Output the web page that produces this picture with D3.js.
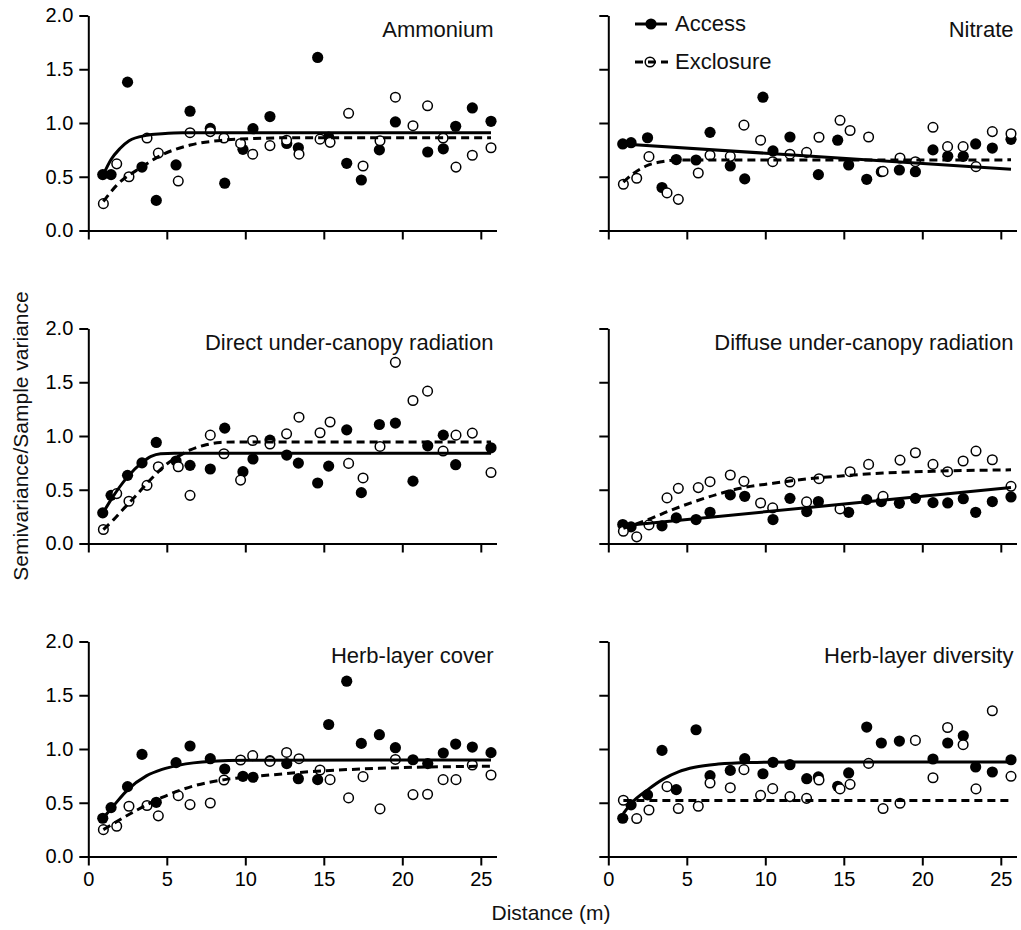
<!DOCTYPE html>
<html>
<head>
<meta charset="utf-8">
<script src="https://cdn.jsdelivr.net/npm/d3@7"></script>
<style>
  html, body { margin: 0; padding: 0; background: #fff; }
  svg { display: block; font-family: "Liberation Sans", Arial, sans-serif; }
</style>
</head>
<body>
<svg id="chart" width="1021" height="930"></svg>
<script>
// ---------- data ----------
const distanceTicks = [0, 5, 10, 15, 20, 25];
const ratioTicks = [0, 0.5, 1, 1.5, 2];
const ratioTickLabels = ["0.0", "0.5", "1.0", "1.5", "2.0"];
const panelTitles = ["Ammonium", "Nitrate", "Direct under-canopy radiation",
  "Diffuse under-canopy radiation", "Herb-layer cover", "Herb-layer diversity"];
const seriesNames = ["Access", "Exclosure"];

// lag distances (m)
const accessLags = [0.92, 1.45, 2.5, 3.42, 4.33, 5.59, 6.48, 7.77, 8.69, 9.85, 10.49, 11.57, 12.64,
  13.38, 14.61, 15.31, 16.46, 17.39, 18.54, 19.56, 20.68, 21.62, 22.61, 23.4, 24.46, 25.65];
const exclosureLags = [0.96, 1.81, 2.59, 3.74, 4.46, 5.73, 6.48, 7.77, 8.64, 9.7, 10.47, 11.57, 12.63,
  13.42, 14.76, 15.4, 16.58, 17.5, 18.58, 19.56, 20.68, 21.61, 22.6, 23.42, 24.46, 25.65];

// semivariance / sample variance (null = hidden / not visible)
const ammoniumAccess = [0.52, 0.52, 1.38, 0.59, 0.28, 0.61, 1.11, 0.95, 0.44, 0.755, 0.947, 1.06, 0.81,
  0.77, 1.61, 0.87, 0.625, 0.47, 0.75, 1.01, null, 0.73, 0.76, 0.97, 1.14, 1.016];
const ammoniumExclosure = [0.25, 0.62, 0.50, 0.86, 0.72, 0.46, 0.91, 0.92, 0.86, 0.81, 0.71, 0.79, 0.84,
  0.71, 0.85, 0.82, 1.09, 0.60, 0.835, 1.24, 0.975, 1.16, 0.86, 0.59, 0.70, 0.77];
const nitrateAccess = [0.805, 0.817, 0.863, 0.40, 0.66, 0.656, 0.913, 0.60, 0.48, 1.24, 0.74, 0.87, null,
  0.52, 0.84, 0.61, 0.476, 0.547, 0.563, 0.547, 0.75, 0.69, 0.69, 0.805, 0.767, 0.848];
const nitrateExclosure = [0.43, 0.486, 0.687, 0.35, 0.29, 0.535, 0.70, 0.69, 0.98, 0.84, 0.64, 0.71, 0.727,
  0.867, 1.025, 0.93, 0.87, 0.55, 0.674, 0.64, 0.96, 0.78, 0.78, 0.594, 0.92, 0.90];
const directAccess = [0.285, 0.448, 0.634, 0.75, 0.94, 0.767, 0.727, 0.693, 1.073, 0.668, 0.786, 0.962, 0.823,
  0.748, 0.563, 0.72, 1.057, 0.473, 1.107, 1.12, 0.58, 0.909, 1.008, 0.733, null, 0.89];
const directExclosure = [0.13, 0.464, 0.393, 0.541, 0.714, 0.714, 0.448, 1.008, 0.835, 0.59, 0.958, 0.925, 1.02,
  1.175, 1.03, 1.13, 0.745, 0.61, 0.903, 1.685, 1.33, 1.417, 0.86, 1.008, 1.027, 0.66];
const diffuseAccess = [0.176, 0.155, null, 0.164, 0.238, 0.223, 0.29, 0.452, 0.439, null, 0.223, 0.42, 0.297,
  0.39, null, 0.29, 0.408, 0.39, 0.374, 0.42, 0.38, 0.377, 0.417, 0.29, 0.39, 0.433];
const diffuseExclosure = [0.114, 0.062, 0.173, 0.424, 0.513, 0.52, 0.575, 0.637, 0.578, 0.377, 0.331, 0.572, 0.387,
  0.603, 0.322, 0.668, 0.736, 0.439, 0.776, 0.844, 0.736, 0.668, 0.767, 0.86, 0.779, 0.532];
const coverAccess = [0.356, 0.455, 0.65, 0.95, 0.504, 0.873, 1.028, 0.91, 0.814, 0.746, 0.737, 0.891, 0.864,
  0.724, 0.715, 1.228, 1.631, 1.052, 1.133, 1.012, 0.9, 0.864, 0.963, 1.046, 1.018, 0.966];
const coverExclosure = [0.25, 0.281, 0.467, 0.474, 0.378, 0.566, 0.483, 0.498, 0.712, 0.898, 0.938, 0.885, 0.968,
  0.91, 0.805, 0.715, 0.545, 0.743, 0.443, 0.903, 0.576, 0.579, 0.715, 0.715, 0.851, 0.758];
const diversityAccess = [0.356, 0.48, 0.573, 0.987, 0.622, 1.179, 0.752, 0.801, 0.91, 0.77, 0.876, 0.854, 0.724,
  0.74, 0.653, 0.777, 1.204, 1.056, 1.074, null, 0.907, 1.056, 1.123, 0.833, 0.786, 0.9];
const diversityExclosure = [0.523, 0.353, 0.433, 0.65, 0.446, 0.467, 0.684, 0.64, 0.808, 0.569, 0.631, 0.557, 0.541,
  0.712, 0.629, 0.671, 0.866, 0.446, 0.495, 1.08, 0.733, 1.2, 1.04, 0.629, 1.356, 0.746];

// fitted model curves, [distance, value]
const ammoniumAccessFit = [[0.96, 0.52], [1.45, 0.66], [2.0, 0.76], [2.6, 0.835], [3.7, 0.885], [4.7, 0.9], [6.0, 0.91], [25.65, 0.91]];
const ammoniumExclosureFit = [[0.96, 0.27], [1.8, 0.42], [3.4, 0.59], [4.5, 0.69], [6.5, 0.795], [8.6, 0.84], [10.5, 0.855], [13, 0.863], [25.65, 0.863]];
const nitrateAccessFit = [[0.96, 0.805], [25.65, 0.57]];
const nitrateExclosureFit = [[0.96, 0.45], [1.6, 0.53], [2.4, 0.6], [3.4, 0.64], [4.5, 0.655], [25.65, 0.657]];
const directAccessFit = [[0.96, 0.29], [1.5, 0.42], [2.5, 0.62], [3.4, 0.75], [4.0, 0.81], [4.6, 0.835], [5.5, 0.84], [25.65, 0.84]];
const directExclosureFit = [[0.96, 0.13], [1.6, 0.22], [2.1, 0.3], [3.0, 0.44], [4.0, 0.6], [5.0, 0.74], [5.6, 0.8], [6.5, 0.87], [7.5, 0.918], [8.4, 0.94], [9.5, 0.945], [25.65, 0.945]];
const diffuseAccessFit = [[0.96, 0.165], [25.65, 0.52]];
const diffuseExclosureFit = [[0.96, 0.14], [2.5, 0.22], [4.0, 0.31], [5.5, 0.39], [7.0, 0.46], [8.6, 0.52], [10.5, 0.56], [12.6, 0.6], [15, 0.63], [17.5, 0.655], [20.7, 0.672], [25.65, 0.685]];
const coverAccessFit = [[0.96, 0.36], [1.6, 0.47], [2.5, 0.62], [3.7, 0.75], [4.7, 0.81], [5.8, 0.85], [7.9, 0.885], [10, 0.895], [25.65, 0.898]];
const coverExclosureFit = [[0.96, 0.25], [2.7, 0.4], [4.7, 0.55], [6.8, 0.66], [8.7, 0.715], [11, 0.75], [14.2, 0.79], [18.5, 0.82], [25.65, 0.84]];
const diversityAccessFit = [[0.96, 0.4], [1.5, 0.5], [2.5, 0.62], [3.5, 0.72], [4.5, 0.79], [5.5, 0.83], [7, 0.86], [9, 0.875], [12, 0.88], [25.65, 0.88]];
const diversityExclosureFit = [[0.96, 0.52], [25.65, 0.52]];

// ---------- assemble panels ----------
const panels = [
  { title: panelTitles[0], acc: ammoniumAccess, exc: ammoniumExclosure, accFit: ammoniumAccessFit, excFit: ammoniumExclosureFit },
  { title: panelTitles[1], acc: nitrateAccess, exc: nitrateExclosure, accFit: nitrateAccessFit, excFit: nitrateExclosureFit },
  { title: panelTitles[2], acc: directAccess, exc: directExclosure, accFit: directAccessFit, excFit: directExclosureFit },
  { title: panelTitles[3], acc: diffuseAccess, exc: diffuseExclosure, accFit: diffuseAccessFit, excFit: diffuseExclosureFit },
  { title: panelTitles[4], acc: coverAccess, exc: coverExclosure, accFit: coverAccessFit, excFit: coverExclosureFit },
  { title: panelTitles[5], acc: diversityAccess, exc: diversityExclosure, accFit: diversityAccessFit, excFit: diversityExclosureFit }
];

// ---------- layout ----------
const colX = [88.3, 608.3];
const rowY = [15.5, 328.5, 641.5];
const plotW = 408.2, plotH = 215;
const x = d3.scaleLinear().domain([0, 26]).range([0, plotW]);
const y = d3.scaleLinear().domain([0, 2]).range([plotH, 0]);

const svg = d3.select("#chart");
const line = d3.line().x(d => x(d[0])).y(d => y(d[1])).curve(d3.curveMonotoneX);

panels.forEach((p, i) => {
  const col = i % 2, row = Math.floor(i / 2);
  const g = svg.append("g").attr("transform", `translate(${colX[col]},${rowY[row]})`);

  // axes
  const yAxis = d3.axisLeft(y).tickValues(ratioTicks).tickSize(9).tickSizeOuter(0).tickPadding(6)
    .tickFormat((d, k) => col === 0 ? ratioTickLabels[k] : "");
  const xAxis = d3.axisBottom(x).tickValues(distanceTicks).tickSize(9).tickSizeOuter(0).tickPadding(6)
    .tickFormat(d => row === 2 ? d3.format("d")(d) : "");
  const ya = g.append("g").call(yAxis);
  const xa = g.append("g").attr("transform", `translate(0,${plotH})`).call(xAxis);
  [ya, xa].forEach(a => {
    a.selectAll("path.domain").attr("stroke", "#000").attr("stroke-width", 2);
    a.selectAll(".tick line").attr("stroke", "#000").attr("stroke-width", 2);
    a.selectAll(".tick text").attr("fill", "#000").style("font-size", "20px")
      .style("font-family", "'Liberation Sans', Arial, sans-serif");
  });

  // title
  g.append("text").attr("x", plotW - 3).attr("y", 21).attr("text-anchor", "end")
    .style("font-size", "22px").attr("fill", "#111").text(p.title);

  // points
  const accPts = accessLags.map((d, k) => [d, p.acc[k]]).filter(d => d[1] != null);
  const excPts = exclosureLags.map((d, k) => [d, p.exc[k]]).filter(d => d[1] != null);
  g.append("g").selectAll("circle").data(accPts).join("circle")
    .attr("cx", d => x(d[0])).attr("cy", d => y(d[1])).attr("r", 5.6).attr("fill", "#000");
  g.append("g").selectAll("circle").data(excPts).join("circle")
    .attr("cx", d => x(d[0])).attr("cy", d => y(d[1])).attr("r", 4.8)
    .attr("fill", "#fff").attr("stroke", "#000").attr("stroke-width", 1.5);

  // fitted lines
  g.append("path").datum(p.accFit).attr("d", line).attr("fill", "none")
    .attr("stroke", "#000").attr("stroke-width", 3);
  g.append("path").datum(p.excFit).attr("d", line).attr("fill", "none")
    .attr("stroke", "#000").attr("stroke-width", 3).attr("stroke-dasharray", "8,5");
});

// legend (top-right panel)
const lg = svg.append("g");
lg.append("line").attr("x1", 635).attr("x2", 667).attr("y1", 24).attr("y2", 24)
  .attr("stroke", "#000").attr("stroke-width", 3);
lg.append("circle").attr("cx", 651).attr("cy", 24).attr("r", 5.6).attr("fill", "#000");
lg.append("text").attr("x", 675).attr("y", 31).style("font-size", "22px").attr("fill", "#111").text(seriesNames[0]);
lg.append("circle").attr("cx", 650).attr("cy", 62).attr("r", 4.8).attr("fill", "#fff")
  .attr("stroke", "#000").attr("stroke-width", 1.5);
lg.append("line").attr("x1", 635).attr("x2", 668).attr("y1", 62).attr("y2", 62)
  .attr("stroke", "#000").attr("stroke-width", 3).attr("stroke-dasharray", "8,5");
lg.append("text").attr("x", 675).attr("y", 69).style("font-size", "22px").attr("fill", "#111").text(seriesNames[1]);

// axis titles
svg.append("text").attr("transform", "translate(28,436) rotate(-90)").attr("text-anchor", "middle")
  .style("font-size", "21px").attr("fill", "#111").text("Semivariance/Sample variance");
svg.append("text").attr("x", 551).attr("y", 920).attr("text-anchor", "middle")
  .style("font-size", "21px").attr("fill", "#111").text("Distance (m)");
</script>
</body>
</html>
